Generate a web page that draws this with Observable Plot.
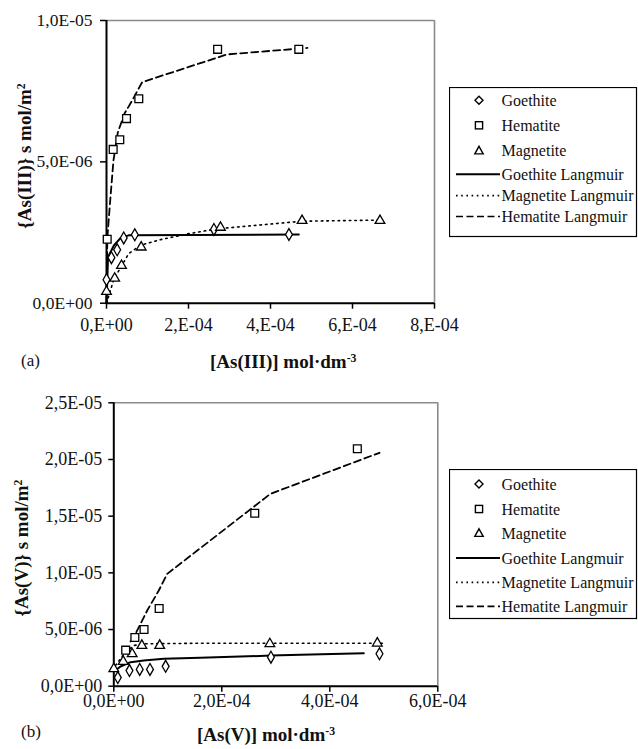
<!DOCTYPE html>
<html>
<head>
<meta charset="utf-8">
<script src="https://cdn.jsdelivr.net/npm/d3@7"></script>
<script src="https://cdn.jsdelivr.net/npm/@observablehq/plot@0.6"></script>
<style>
  body { margin: 0; background: #fff; }
  #fig { position: relative; width: 638px; height: 749px; background: #fff; font-family: "Liberation Serif", "Times New Roman", serif; color: #111; }
  .abs { position: absolute; }
  .ttl { font-weight: bold; font-size: 19px; white-space: nowrap; }
  .tag { font-size: 17px; white-space: nowrap; }
  sup { font-size: 0.62em; vertical-align: 0.55em; line-height: 0; }
</style>
</head>
<body>
<div id="fig"></div>
<script>
// ---------- Panel (a): As(III) ----------
const xTicksIII = [0, 2e-4, 4e-4, 6e-4, 8e-4];
const xLabelsIII = ["0,E+00", "2,E-04", "4,E-04", "6,E-04", "8,E-04"];
const yTicksIII = [0, 5e-6, 1e-5];
const yLabelsIII = ["0,0E+00", "5,0E-06", "1,0E-05"];

const goethiteIII_x = [0, 1.2e-5, 2.6e-5, 4.2e-5, 6.9e-5, 2.62e-4, 4.45e-4];
const goethiteIII_y = [8.3e-7, 1.61e-6, 1.89e-6, 2.31e-6, 2.42e-6, 2.61e-6, 2.43e-6];
const hematiteIII_x = [1.7e-6, 1.63e-5, 3.24e-5, 4.88e-5, 7.88e-5, 2.71e-4, 4.69e-4];
const hematiteIII_y = [2.26e-6, 5.44e-6, 5.78e-6, 6.53e-6, 7.23e-6, 8.98e-6, 8.98e-6];
const magnetiteIII_x = [0, 2.0e-5, 3.66e-5, 8.46e-5, 2.78e-4, 4.77e-4, 6.67e-4];
const magnetiteIII_y = [4.1e-7, 8.8e-7, 1.33e-6, 1.98e-6, 2.68e-6, 2.92e-6, 2.92e-6];

const goethiteFitIII_x = [0, 3.7e-6, 1.8e-5, 3.4e-5, 5.4e-5, 4.69e-4];
const goethiteFitIII_y = [0, 1.63e-6, 2.04e-6, 2.3e-6, 2.4e-6, 2.43e-6];
const hematiteFitIII_x = [0, 2e-6, 9e-6, 1.7e-5, 2.76e-5, 4.4e-5, 6.27e-5, 8.7e-5, 2.94e-4, 4.9e-4];
const hematiteFitIII_y = [0, 2.3e-6, 3.63e-6, 5.05e-6, 6.04e-6, 6.71e-6, 7.17e-6, 7.82e-6, 8.8e-6, 9.03e-6];
const magnetiteFitIII_x = [0, 1.8e-5, 3.8e-5, 5.4e-5, 8.3e-5, 1.32e-4, 1.97e-4, 2.7e-4, 4.77e-4, 6.67e-4];
const magnetiteFitIII_y = [0, 8.5e-7, 1.35e-6, 1.75e-6, 2.05e-6, 2.25e-6, 2.45e-6, 2.63e-6, 2.9e-6, 2.94e-6];

// ---------- Panel (b): As(V) ----------
const xTicksV = [0, 2e-4, 4e-4, 6e-4];
const xLabelsV = ["0,0E+00", "2,0E-04", "4,0E-04", "6,0E-04"];
const yTicksV = [0, 5e-6, 1e-5, 1.5e-5, 2e-5, 2.5e-5];
const yLabelsV = ["0,0E+00", "5,0E-06", "1,0E-05", "1,5E-05", "2,0E-05", "2,5E-05"];

const goethiteV_x = [7.4e-6, 2.9e-5, 4.8e-5, 6.7e-5, 9.6e-5, 2.91e-4, 4.92e-4];
const goethiteV_y = [7.6e-7, 1.38e-6, 1.48e-6, 1.48e-6, 1.75e-6, 2.56e-6, 2.86e-6];
const hematiteV_x = [2.2e-5, 3.9e-5, 5.6e-5, 8.4e-5, 2.61e-4, 4.51e-4];
const hematiteV_y = [3.18e-6, 4.3e-6, 5.0e-6, 6.85e-6, 1.526e-5, 2.094e-5];
const magnetiteV_x = [0, 1.74e-5, 3.4e-5, 5.2e-5, 8.5e-5, 2.89e-4, 4.88e-4];
const magnetiteV_y = [1.53e-6, 2.18e-6, 2.85e-6, 3.59e-6, 3.59e-6, 3.74e-6, 3.79e-6];

const goethiteFitV_x = [3e-6, 1.24e-5, 3.1e-5, 5.56e-5, 9.26e-5, 1.6e-4, 2.91e-4, 3.46e-4, 4.63e-4];
const goethiteFitV_y = [1.38e-6, 1.74e-6, 2.12e-6, 2.27e-6, 2.42e-6, 2.5e-6, 2.7e-6, 2.77e-6, 2.9e-6];
const hematiteFitV_x = [3.1e-5, 3.7e-5, 6.19e-5, 8.33e-5, 9.89e-5, 2.9e-4, 4.92e-4];
const hematiteFitV_y = [3.95e-6, 4.32e-6, 6.68e-6, 8.44e-6, 9.91e-6, 1.697e-5, 2.059e-5];
const magnetiteFitV_x = [3e-6, 2.17e-5, 3.7e-5, 5.56e-5, 1.6e-4, 5.0e-4];
const magnetiteFitV_y = [1.83e-6, 3.0e-6, 3.59e-6, 3.74e-6, 3.79e-6, 3.79e-6];

const legendNames = ["Goethite", "Hematite", "Magnetite", "Goethite Langmuir", "Magnetite Langmuir", "Hematite Langmuir"];

// ---------- helpers ----------
const pts = (xs, ys) => xs.map((x, i) => ({x, y: ys[i]}));
const fmt = (ticks, labels) => (d) => labels[ticks.indexOf(d)];

function panel(cfg) {
  const markerStyle = {x: "x", y: "y", fill: "white", stroke: "black", strokeWidth: 1.3};
  return Plot.plot({
    width: cfg.width, height: cfg.height,
    marginLeft: cfg.ml, marginRight: cfg.mr, marginTop: cfg.mt, marginBottom: cfg.mb,
    style: {fontFamily: "'Liberation Serif', 'Times New Roman', serif", fontSize: "18px", color: "#111", background: "transparent", overflow: "visible"},
    x: {domain: [0, cfg.xTicks[cfg.xTicks.length - 1]]},
    y: {domain: [0, cfg.yTicks[cfg.yTicks.length - 1]]},
    marks: [
      Plot.ruleY([cfg.yTicks[cfg.yTicks.length - 1]], {stroke: "#8a8a8a", strokeWidth: 1.6}),
      Plot.ruleX([cfg.xTicks[cfg.xTicks.length - 1]], {stroke: "#8a8a8a", strokeWidth: 1.6}),
      Plot.ruleX([0], {stroke: "black", strokeWidth: 2}),
      Plot.ruleY([0], {stroke: "black", strokeWidth: 2}),
      Plot.axisX({ticks: cfg.xTicks, tickFormat: fmt(cfg.xTicks, cfg.xLabels), tickSize: cfg.xts, tickPadding: cfg.xtp, label: null, stroke: "black", strokeWidth: 1.5}),
      Plot.axisY({ticks: cfg.yTicks, tickFormat: fmt(cfg.yTicks, cfg.yLabels), tickSize: cfg.yts, tickPadding: cfg.ytp, label: null, stroke: "black", strokeWidth: 1.5, fontSize: cfg.yfs}),
      Plot.line(cfg.magFit, {x: "x", y: "y", stroke: "black", strokeWidth: 1.6, strokeDasharray: "1.6,4"}),
      Plot.line(cfg.goeFit, {x: "x", y: "y", stroke: "black", strokeWidth: 2}),
      Plot.line(cfg.hemFit, {x: "x", y: "y", stroke: "black", strokeWidth: 1.8, strokeDasharray: "7,4"}),
      Plot.dot(cfg.goe, {...markerStyle, symbol: "diamond", r: 3.6}),
      Plot.dot(cfg.mag, {...markerStyle, symbol: "triangle", r: 3.6}),
      Plot.dot(cfg.hem, {...markerStyle, symbol: "square", r: 4.4})
    ]
  });
}

function legend(rowYs) {
  const svg = d3.create("svg").attr("width", 190).attr("height", 152);
  svg.append("rect").attr("x", 0.5).attr("y", 0.5).attr("width", 187).attr("height", 149)
    .attr("fill", "white").attr("stroke", "black").attr("stroke-width", 1.2);
  const cx = 30;
  legendNames.forEach((name, i) => {
    const y = rowYs[i];
    const g = svg.append("g").attr("fill", "white").attr("stroke", "black").attr("stroke-width", 1.4);
    if (i === 0) g.append("path").attr("d", `M${cx},${y-4}L${cx+4},${y}L${cx},${y+4}L${cx-4},${y}Z`);
    if (i === 1) g.append("rect").attr("x", cx - 3.6).attr("y", y - 3.6).attr("width", 7.2).attr("height", 7.2);
    if (i === 2) g.append("path").attr("d", `M${cx},${y-4.2}L${cx+4.2},${y+3.4}L${cx-4.2},${y+3.4}Z`);
    if (i >= 3) {
      const dash = i === 3 ? null : (i === 4 ? "1.6,3.6" : "7,3.5");
      g.append("line").attr("x1", 7).attr("x2", 51).attr("y1", y).attr("y2", y)
        .attr("stroke-dasharray", dash).attr("stroke-width", i === 3 ? 2 : 1.7);
    }
    svg.append("text").attr("x", 52.5).attr("y", y).attr("dy", "0.35em")
      .attr("font-family", "'Liberation Serif', 'Times New Roman', serif").attr("font-size", 16)
      .attr("fill", "#111").text(name);
  });
  return svg.node();
}

function place(node, left, top) {
  const d = document.createElement("div");
  d.className = "abs";
  d.style.left = left + "px"; d.style.top = top + "px";
  d.appendChild(node);
  document.getElementById("fig").appendChild(d);
  return d;
}
function html(str, left, top, cls, extraStyle) {
  const d = document.createElement("div");
  d.className = "abs " + cls;
  d.style.left = left + "px"; d.style.top = top + "px";
  if (extraStyle) d.style.transform = extraStyle;
  d.innerHTML = str;
  document.getElementById("fig").appendChild(d);
}

// Panel (a)
place(panel({
  width: 440, height: 340, ml: 106, mr: 6, mt: 20, mb: 37.3,
  xTicks: xTicksIII, xLabels: xLabelsIII, yTicks: yTicksIII, yLabels: yLabelsIII,
  xts: 6, xtp: 9.5, yts: 6, ytp: 8, yfs: 17.5,
  goe: pts(goethiteIII_x, goethiteIII_y), hem: pts(hematiteIII_x, hematiteIII_y), mag: pts(magnetiteIII_x, magnetiteIII_y),
  goeFit: pts(goethiteFitIII_x, goethiteFitIII_y), hemFit: pts(hematiteFitIII_x, hematiteFitIII_y), magFit: pts(magnetiteFitIII_x, magnetiteFitIII_y)
}), 0, 0);

// Panel (b)
place(panel({
  width: 445, height: 340, ml: 113.3, mr: 7.7, mt: 22.3, mb: 34.3,
  xTicks: xTicksV, xLabels: xLabelsV, yTicks: yTicksV, yLabels: yLabelsV,
  xts: 6, xtp: 2.5, yts: 5, ytp: 6.5, yfs: 18,
  goe: pts(goethiteV_x, goethiteV_y), hem: pts(hematiteV_x, hematiteV_y), mag: pts(magnetiteV_x, magnetiteV_y),
  goeFit: pts(goethiteFitV_x, goethiteFitV_y), hemFit: pts(hematiteFitV_x, hematiteFitV_y), magFit: pts(magnetiteFitV_x, magnetiteFitV_y)
}), 0, 380);

// Legends
place(legend([13.3, 38.3, 63.5, 87.3, 108.6, 129.5]), 449, 86.7);
place(legend([15, 40, 64, 89, 113.4, 137.4]), 449, 469.3);

// Titles and panel tags
html("[As(III)] mol·dm<sup>-3</sup>", 210, 351, "ttl");
html("(a)", 21, 351, "tag");
html("{As(III)} s mol/m<sup>2</sup>", 25, 156, "ttl", "translate(-50%,-50%) rotate(-90deg)");
html("[As(V)] mol·dm<sup>-3</sup>", 197, 724, "ttl");
html("(b)", 21, 722, "tag");
html("{As(V)} s mol/m<sup>2</sup>", 22, 548, "ttl", "translate(-50%,-50%) rotate(-90deg)");
</script>
</body>
</html>
